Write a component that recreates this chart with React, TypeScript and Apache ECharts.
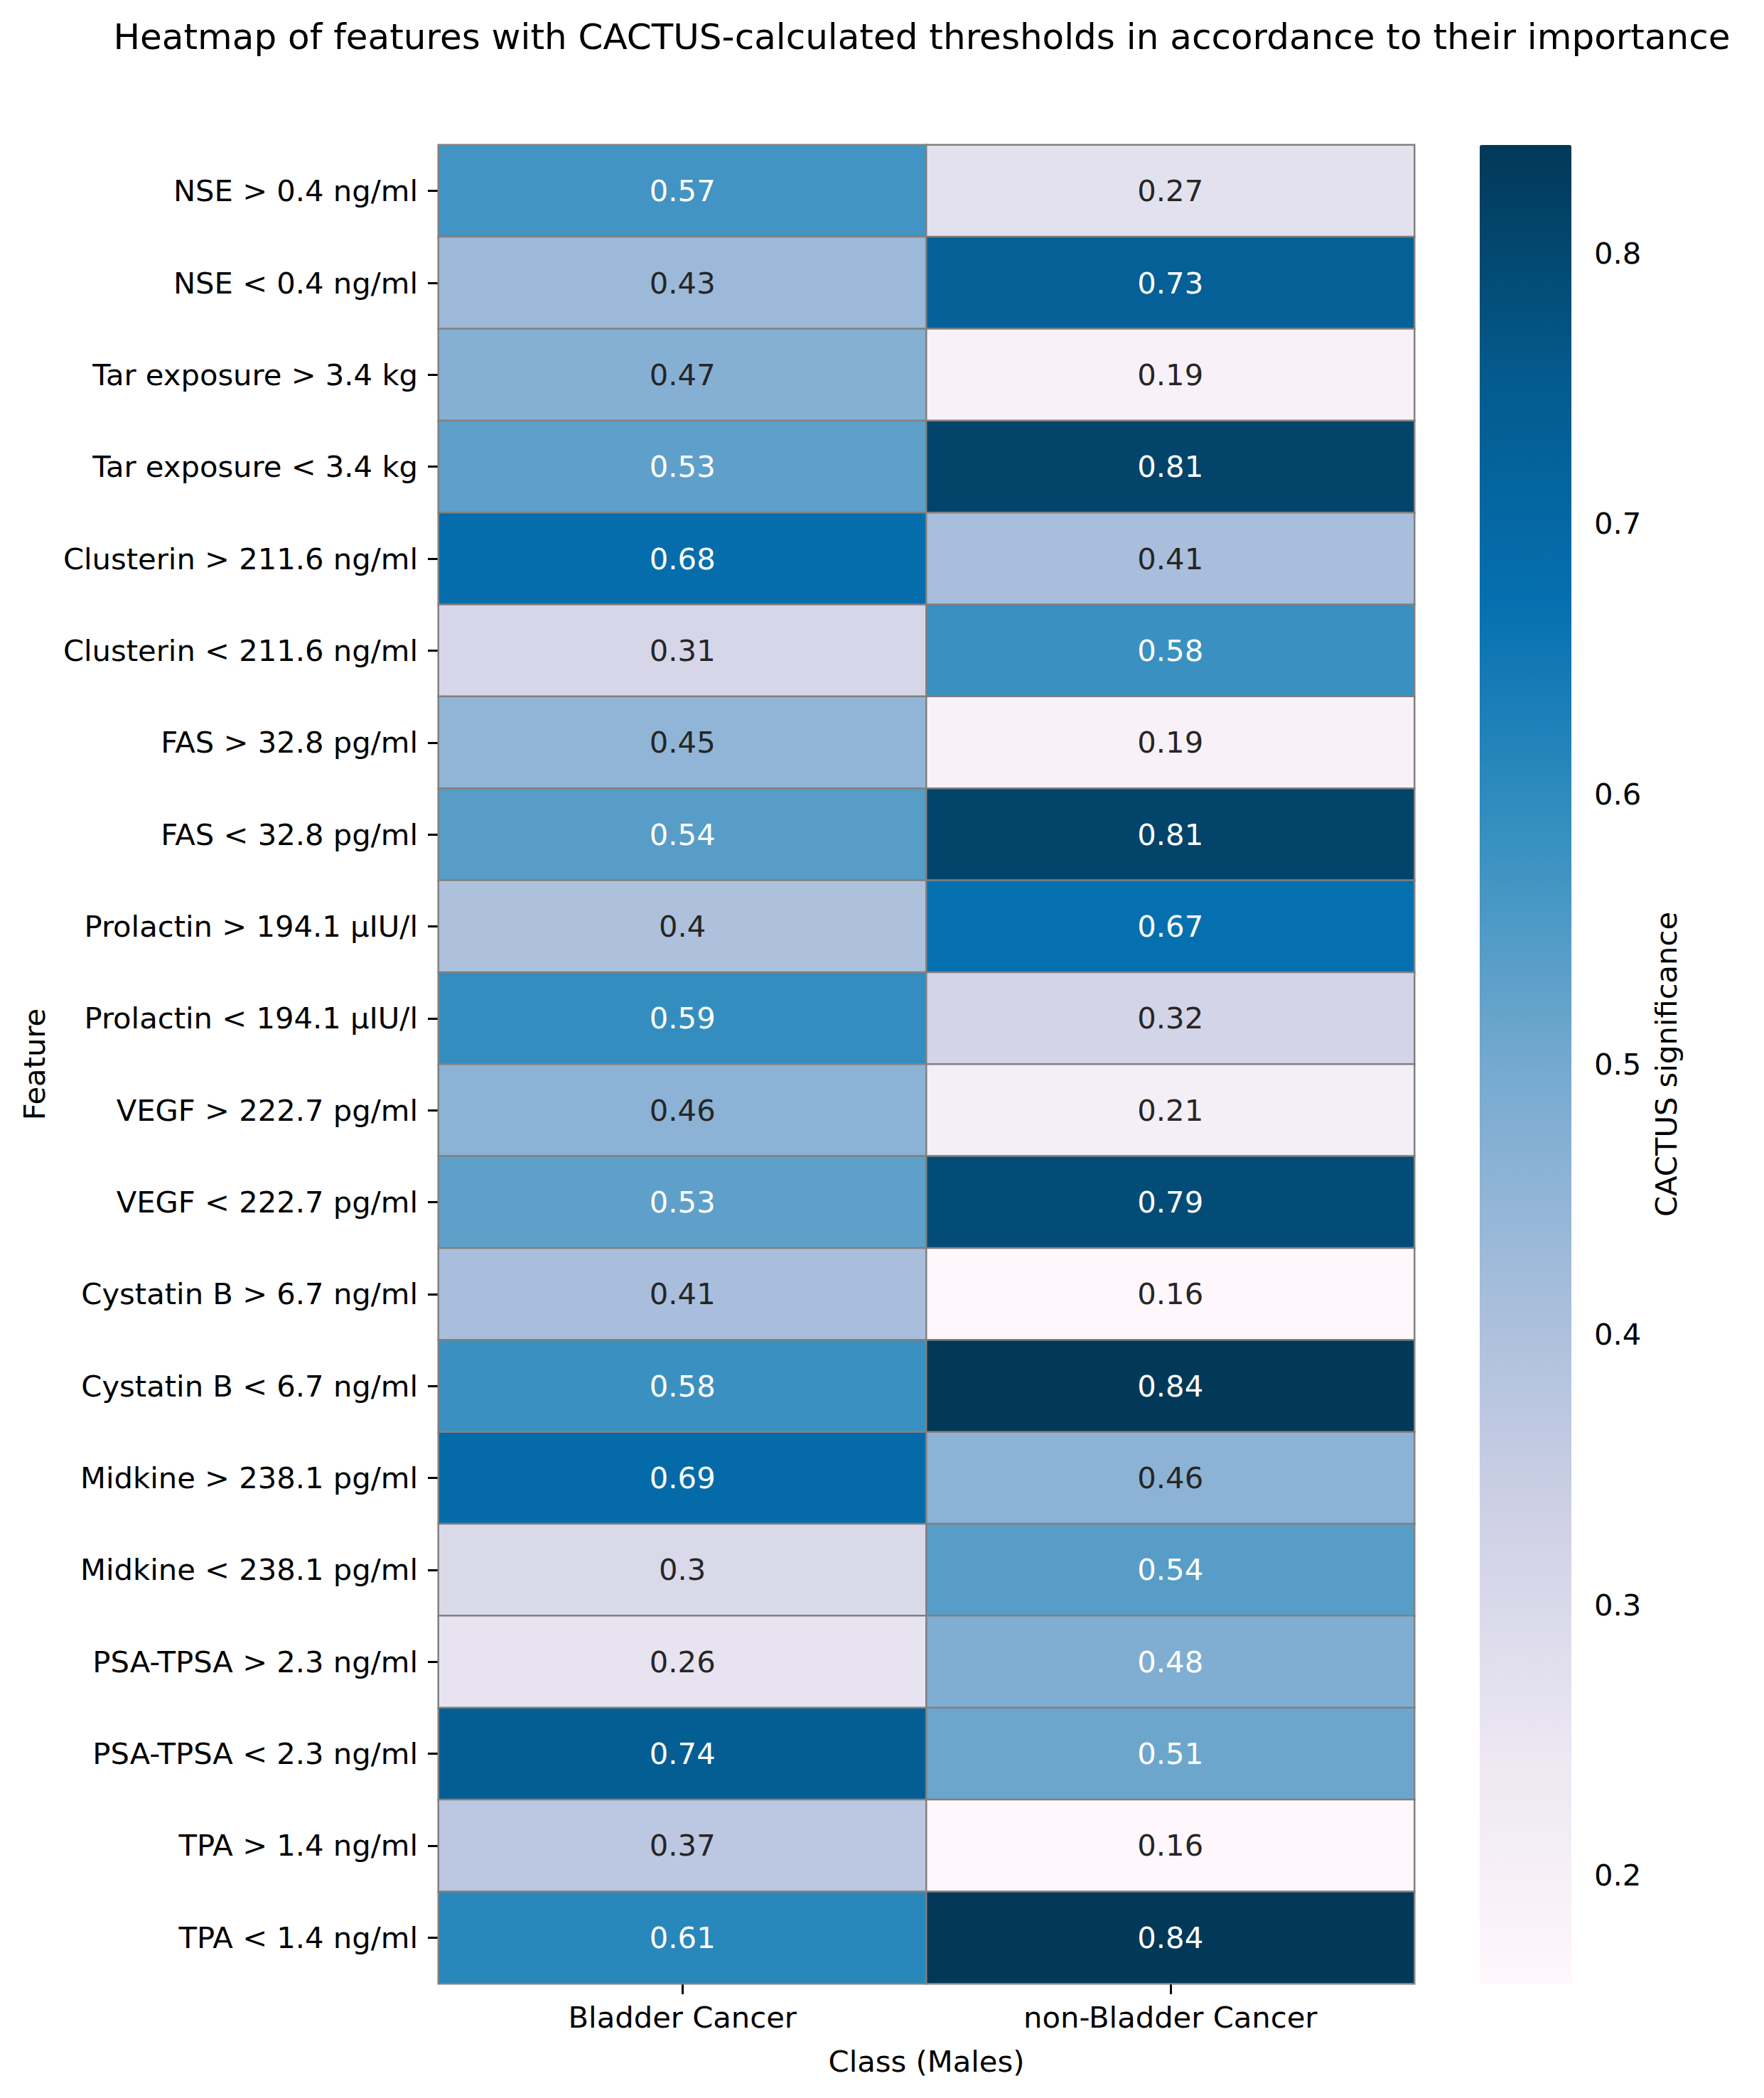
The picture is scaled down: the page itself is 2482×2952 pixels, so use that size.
import React, { useEffect, useRef } from 'react';
import * as echarts from 'echarts';

const TITLE = 'Heatmap of features with CACTUS-calculated thresholds in accordance to their importance';
const classes = ['Bladder Cancer', 'non-Bladder Cancer'];
const features = [
  'NSE > 0.4 ng/ml',
  'NSE < 0.4 ng/ml',
  'Tar exposure > 3.4 kg',
  'Tar exposure < 3.4 kg',
  'Clusterin > 211.6 ng/ml',
  'Clusterin < 211.6 ng/ml',
  'FAS > 32.8 pg/ml',
  'FAS < 32.8 pg/ml',
  'Prolactin > 194.1 µIU/l',
  'Prolactin < 194.1 µIU/l',
  'VEGF > 222.7 pg/ml',
  'VEGF < 222.7 pg/ml',
  'Cystatin B > 6.7 ng/ml',
  'Cystatin B < 6.7 ng/ml',
  'Midkine > 238.1 pg/ml',
  'Midkine < 238.1 pg/ml',
  'PSA-TPSA > 2.3 ng/ml',
  'PSA-TPSA < 2.3 ng/ml',
  'TPA > 1.4 ng/ml',
  'TPA < 1.4 ng/ml',
];
const bladderValues = [0.57, 0.43, 0.47, 0.53, 0.68, 0.31, 0.45, 0.54, 0.4, 0.59, 0.46, 0.53, 0.41, 0.58, 0.69, 0.3, 0.26, 0.74, 0.37, 0.61];
const nonBladderValues = [0.27, 0.73, 0.19, 0.81, 0.41, 0.58, 0.19, 0.81, 0.67, 0.32, 0.21, 0.79, 0.16, 0.84, 0.46, 0.54, 0.48, 0.51, 0.16, 0.84];
const colorbarTicks = [0.2, 0.3, 0.4, 0.5, 0.6, 0.7, 0.8];
const vMin = 0.16;
const vMax = 0.84;

const PUBU = ['#fff7fb', '#ece7f2', '#d0d1e6', '#a6bddb', '#74a9cf', '#3690c0', '#0570b0', '#045a8d', '#023858'];
const FONT = 'DejaVu Sans';

export default function App() {
  const ref = useRef<HTMLDivElement>(null);
  useEffect(() => {
    if (!ref.current) return;
    const chart = echarts.init(ref.current, null, { renderer: 'svg' });
    const columns = [bladderValues, nonBladderValues];
    const data: any[] = [];
    columns.forEach((col, xi) => {
      col.forEach((v, yi) => {
        data.push({
          value: [xi, yi, v],
          label: { color: v >= 0.475 ? '#ffffff' : '#262626' },
        });
      });
    });
    const tickStyle = { color: '#000', width: 3 };
    const hiddenLine = { show: true, lineStyle: { color: 'rgba(0,0,0,0)', width: 0 } };
    const axisText = { fontSize: 41.7, color: '#000', fontFamily: FONT };
    chart.setOption({
      animation: false,
      backgroundColor: '#ffffff',
      textStyle: { fontFamily: FONT },
      title: {
        text: TITLE,
        left: 1297,
        top: 27,
        textAlign: 'center',
        padding: 0,
        textStyle: { fontSize: 50, fontWeight: 'normal', color: '#000', fontFamily: FONT },
      },
      grid: [
        { left: 617, top: 204, width: 1373, height: 2587 },
        { left: 2082, top: 204, width: 129, height: 2587 },
      ],
      xAxis: [
        {
          type: 'category',
          gridIndex: 0,
          data: classes,
          position: 'bottom',
          axisLine: hiddenLine,
          axisTick: { show: true, alignWithLabel: true, length: 15, lineStyle: tickStyle },
          axisLabel: { ...axisText, margin: 26 },
          splitLine: { show: false },
          name: 'Class (Males)',
          nameLocation: 'middle',
          nameGap: 88,
          nameTextStyle: axisText,
        },
        { type: 'value', gridIndex: 1, show: false, min: 0, max: 1 },
      ],
      yAxis: [
        {
          type: 'category',
          gridIndex: 0,
          data: features,
          inverse: true,
          axisLine: hiddenLine,
          axisTick: { show: true, alignWithLabel: true, length: 15, lineStyle: tickStyle },
          axisLabel: { ...axisText, margin: 29 },
          splitLine: { show: false },
          name: 'Feature',
          nameLocation: 'middle',
          nameGap: 548,
          nameRotate: 90,
          nameTextStyle: axisText,
        },
        {
          type: 'value',
          gridIndex: 1,
          position: 'right',
          min: vMin,
          max: vMax,
          axisLine: hiddenLine,
          axisTick: { show: true, length: 16, lineStyle: tickStyle, customValues: colorbarTicks },
          axisLabel: { ...axisText, margin: 32, customValues: colorbarTicks, formatter: (v: number) => v.toFixed(1) },
          splitLine: { show: false },
          name: 'CACTUS significance',
          nameLocation: 'middle',
          nameGap: 112,
          nameRotate: 90,
          nameTextStyle: axisText,
        },
      ],
      visualMap: {
        type: 'continuous',
        seriesIndex: 0,
        min: vMin,
        max: vMax,
        inRange: { color: PUBU },
        show: true,
        orient: 'vertical',
        left: 2082,
        top: 204,
        itemWidth: 129,
        itemHeight: 2587,
        padding: 0,
        text: null,
        calculable: false,
        hoverLink: false,
      },
      series: [
        {
          type: 'heatmap',
          xAxisIndex: 0,
          yAxisIndex: 0,
          data,
          label: {
            show: true,
            fontSize: 41.7,
            fontFamily: FONT,
            formatter: (p: any) => String(p.value[2]),
          },
          itemStyle: { borderColor: '#808080', borderWidth: 2.5 },
          emphasis: { disabled: true },
        },
        { type: 'scatter', xAxisIndex: 1, yAxisIndex: 1, data: [] },
      ],
    });
    return () => chart.dispose();
  }, []);
  return (
    <div
      ref={ref}
      style={{ position: 'absolute', left: 0, top: 0, width: 2482, height: 2952, background: '#fff' }}
    />
  );
}
